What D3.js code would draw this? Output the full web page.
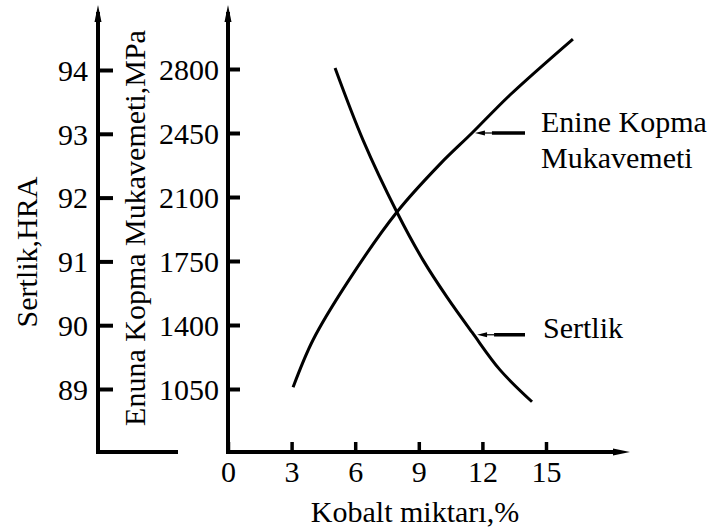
<!DOCTYPE html>
<html>
<head>
<meta charset="utf-8">
<script src="https://d3js.org/d3.v7.min.js"></script>
<style>
  html, body { margin: 0; background: #fff; }
</style>
</head>
<body>
<svg id="chart" width="710" height="528"></svg>
<script>
// values
var cobaltTicks = [0, 3, 6, 9, 12, 15];
var hardTicks = [89, 90, 91, 92, 93, 94];
var strTicks = [1050, 1400, 1750, 2100, 2450, 2800];

// Sertlik (HRA) curve
var hardCobalt = [5.05, 6.37, 7.97, 9.20, 10.33, 11.51, 12.83, 14.34];
var hardness = [94.03, 92.90, 91.77, 91.02, 90.44, 89.89, 89.30, 88.80];

// Enine kopma mukavemeti (MPa) curve
var strCobalt = [3.07, 4.01, 5.61, 7.97, 10.0, 11.51, 13.3, 16.27];
var strength = [1060, 1318, 1629, 2018, 2280, 2450, 2658, 2964];

var strLabel = ["Enine Kopma", "Mukavemeti"];
var hardLabel = ["Sertlik"];

var FONT = "'Liberation Serif'";
var fs = 30;

var svg = d3.select("#chart");

var x = d3.scaleLinear().domain([0, 15]).range([228, 546]);
var yH = d3.scaleLinear().domain([89, 94]).range([389, 70]);
var yS = d3.scaleLinear().domain([1050, 2800]).range([389, 69]);

var baseY = 452, leftX = 98;

function arrowHead(px, py, dir) {
    var p;
    if (dir == "up") p = [[px, py], [px - 3.5, py + 17], [px + 3.5, py + 17]];
    else if (dir == "right") p = [[px, py], [px - 17, py - 3.5], [px - 17, py + 3.5]];
    else p = [[px, py], [px + 10, py - 2.5], [px + 10, py + 2.5]];
    svg.append("path").attr("d", "M" + p.join("L") + "Z").attr("fill", "#000");
}

function label(sel) {
    return sel.attr("font-family", null).attr("font-size", null)
        .style("font-family", FONT).style("font-size", fs + "px").attr("fill", "#000");
}

// left axis (hardness)
svg.append("line").attr("x1", leftX).attr("x2", leftX).attr("y1", baseY + 2).attr("y2", 12)
    .attr("stroke", "#000").attr("stroke-width", 4);
svg.append("line").attr("x1", leftX - 2).attr("x2", 178).attr("y1", baseY).attr("y2", baseY)
    .attr("stroke", "#000").attr("stroke-width", 4);
arrowHead(leftX, 5, "up");

var gH = svg.append("g").attr("transform", "translate(" + leftX + ",0)")
    .call(d3.axisLeft(yH).tickValues(hardTicks).tickFormat(d3.format("d"))
        .tickSizeInner(-15).tickSizeOuter(0).tickPadding(10));
gH.attr("font-family", null).attr("font-size", null);
gH.select(".domain").remove();
gH.selectAll(".tick line").attr("stroke", "#000").attr("stroke-width", 4);
label(gH.selectAll(".tick text")).attr("dy", "0.34em");

// second axis (strength)
svg.append("line").attr("x1", x(0)).attr("x2", x(0)).attr("y1", baseY + 2).attr("y2", 12)
    .attr("stroke", "#000").attr("stroke-width", 4);
arrowHead(x(0), 5, "up");

var gS = svg.append("g").attr("transform", "translate(" + x(0) + ",0)")
    .call(d3.axisLeft(yS).tickValues(strTicks).tickFormat(d3.format("d"))
        .tickSizeInner(-12).tickSizeOuter(0).tickPadding(9));
gS.attr("font-family", null).attr("font-size", null);
gS.select(".domain").remove();
gS.selectAll(".tick line").attr("stroke", "#000").attr("stroke-width", 4);
label(gS.selectAll(".tick text")).attr("dy", "0.34em");

// x axis
svg.append("line").attr("x1", x(0) - 2).attr("x2", 620).attr("y1", baseY).attr("y2", baseY)
    .attr("stroke", "#000").attr("stroke-width", 4);
arrowHead(630, baseY, "right");

var gX = svg.append("g").attr("transform", "translate(0," + baseY + ")")
    .call(d3.axisBottom(x).tickValues(cobaltTicks).tickFormat(d3.format("d"))
        .tickSizeInner(-10).tickSizeOuter(0).tickPadding(9));
gX.attr("font-family", null).attr("font-size", null);
gX.select(".domain").remove();
gX.selectAll(".tick line").attr("stroke", "#000").attr("stroke-width", 3.5);
label(gX.selectAll(".tick text"));

// axis titles
label(svg.append("text")).attr("transform", "translate(37,252) rotate(-90)")
    .attr("text-anchor", "middle").text("Sertlik,HRA");
label(svg.append("text")).attr("transform", "translate(145,228) rotate(-90)")
    .attr("text-anchor", "middle").text("Enuna Kopma Mukavemeti,MPa");
label(svg.append("text")).attr("x", 415).attr("y", 522)
    .attr("text-anchor", "middle").text("Kobalt miktarı,%");

// curves
var lineH = d3.line().x(function(d) { return x(d[0]); }).y(function(d) { return yH(d[1]); })
    .curve(d3.curveCatmullRom.alpha(0.5));
var lineS = d3.line().x(function(d) { return x(d[0]); }).y(function(d) { return yS(d[1]); })
    .curve(d3.curveCatmullRom.alpha(0.5));

svg.append("path").datum(d3.zip(hardCobalt, hardness)).attr("d", lineH)
    .attr("fill", "none").attr("stroke", "#000").attr("stroke-width", 3);
svg.append("path").datum(d3.zip(strCobalt, strength)).attr("d", lineS)
    .attr("fill", "none").attr("stroke", "#000").attr("stroke-width", 3);

// pointer arrows to the curves
var sx = x(11.6), sy = yS(2450);
var hx = x(11.7), hy = yH(89.85);
[[sx, sy], [hx, hy]].forEach(function(p) {
    svg.append("line").attr("x1", p[0] + 8).attr("x2", p[0] + 18).attr("y1", p[1]).attr("y2", p[1])
        .attr("stroke", "#000").attr("stroke-width", 1.2);
    svg.append("line").attr("x1", p[0] + 18).attr("x2", 525).attr("y1", p[1]).attr("y2", p[1])
        .attr("stroke", "#000").attr("stroke-width", 3.5);
    arrowHead(p[0] + 1, p[1], "left");
});

label(svg.append("text")).attr("x", 541).attr("y", 132).text(strLabel[0]);
label(svg.append("text")).attr("x", 541).attr("y", 168).text(strLabel[1]);
label(svg.append("text")).attr("x", 543).attr("y", 338).text(hardLabel[0]);
</script>
</body>
</html>
